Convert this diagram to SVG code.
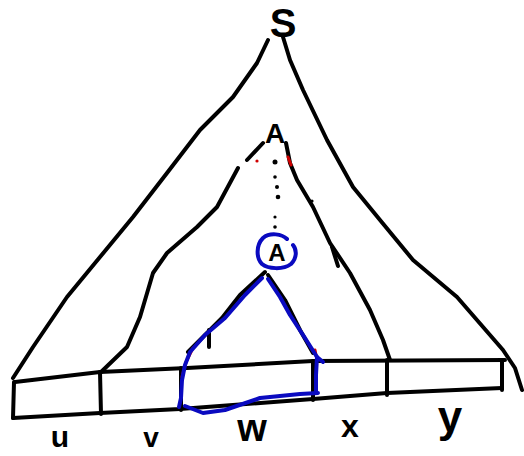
<svg xmlns="http://www.w3.org/2000/svg" width="524" height="456" viewBox="0 0 524 456">
<style>
.k{fill:none;stroke:#000;stroke-width:4;stroke-linecap:round;stroke-linejoin:round}
.b{fill:none;stroke:#0a0ac0;stroke-width:4;stroke-linecap:round;stroke-linejoin:round}
.r{fill:none;stroke:#d00000;stroke-width:3;stroke-linecap:round}
.t{font-family:"Liberation Sans",Arial,sans-serif;font-weight:bold;fill:#000;text-anchor:middle}
.d{fill:#000}
</style>
<rect width="524" height="456" fill="#fff"/>
<g id="connectors">
<path class="k" d="M268,40 L257,63 L233,97 L200,130 L167,173 L133,217 L100,257 L67,297 L33,347 L13,378"/>
<path class="k" d="M283,37 L290,60 L303,90 L327,140 L353,187 L380,220 L413,260 L457,297 L503,350 L515,368 L522,390"/>
<path class="k" d="M247,160 L263,143"/>
<path class="k" d="M238,168 L217,207 L197,227 L167,253 L153,273 L140,317 L127,347 L100,373"/>
<path class="k" d="M286,143 L290,163 L297,180 L313,207 L330,243 L350,273 L370,310 L383,340 L390,360"/>
<path class="k" d="M332,247 L338,266"/>
<circle class="d" cx="312" cy="201" r="1.6"/>
<circle class="d" cx="275" cy="162" r="2.5"/>
<circle class="d" cx="275" cy="177" r="1.8"/>
<circle class="d" cx="277" cy="187" r="2"/>
<circle class="d" cx="278" cy="197" r="2.3"/>
<circle class="d" cx="275" cy="217" r="1.6"/>
<circle class="d" cx="275" cy="227" r="1.8"/>
<path class="k" d="M265,272 L240,295 L222,318 L210,330 L188,352"/>
<path class="k" d="M209,330 L209,347"/>
<path class="k" d="M268,275 L285,300 L300,330 L313,353"/>
<path class="k" d="M15,382 L100,372 L187,368 L313,361 L505,360"/>
<path class="k" d="M13,418 L100,413 L180,409 L313,399 L387,393 L502,388"/>
<path class="k" d="M14,382 L13,418"/>
<path class="k" d="M100,372 L101,414"/>
<path class="k" d="M181,368 L181,410"/>
<path class="k" d="M313,361 L313,400"/>
<path class="k" d="M387,360 L387,395"/>
<path class="k" d="M502,360 L502,390"/>
<path class="r" d="M193,348 L186,362 L182,377"/>
<circle cx="257" cy="161" r="1.6" fill="#d00000"/>
<path class="r" d="M288,157 L291,165"/>
<path class="r" d="M315,350 L317,360"/>
<path class="b" d="M262,278 L245,295 L225,318 L205,335 L190,352 L185,365 L182,380 L181,398 L179,407"/>
<path class="b" d="M185,406 L203,413 L225,410 L260,398 L300,394 L318,393"/>
<path class="b" d="M316,393 L316,375 L317,357 L323,362"/>
<path class="b" d="M317,357 L305,338 L290,315 L280,297 L268,279"/>
<path class="b" d="M287,239 C282,234 270,232 263,238 C256,245 256,258 262,264 C268,269 283,270 291,264 C297,258 297,250 293,245"/>
</g>
<g id="node-S"><text class="t" x="283" y="37" font-size="40">S</text></g>
<g id="node-A-top"><text class="t" x="275" y="143" font-size="28">A</text></g>
<g id="node-A-circle"><text class="t" x="277" y="261" font-size="24">A</text></g>
<g id="label-u"><text class="t" x="60" y="447" font-size="30">u</text></g>
<g id="label-v"><text class="t" x="151" y="447" font-size="28">v</text></g>
<g id="label-w"><text class="t" x="252" y="441" font-size="38">w</text></g>
<g id="label-x"><text class="t" x="350" y="437" font-size="32">x</text></g>
<g id="label-y"><text class="t" x="450" y="432" font-size="44">y</text></g>
</svg>
